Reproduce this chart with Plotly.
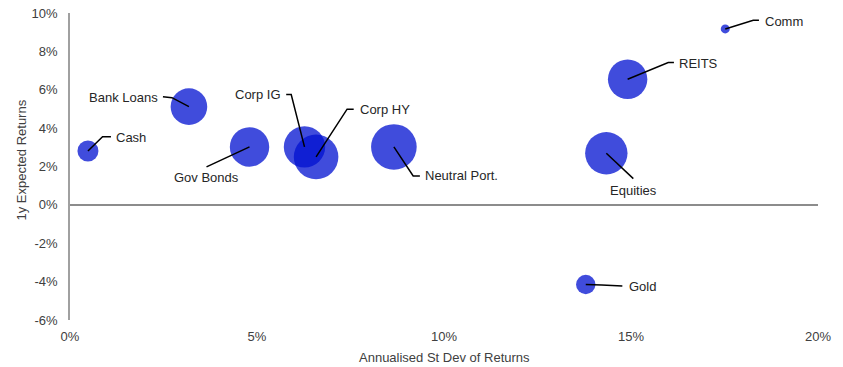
import plotly.graph_objects as go

# ---- data ----
assets = ["Cash", "Bank Loans", "Gov Bonds", "Corp IG", "Corp HY",
          "Neutral Port.", "Equities", "REITS", "Comm", "Gold"]
stdev_pct = [0.48, 3.18, 4.80, 6.27, 6.58, 8.66, 14.34, 14.91, 17.52, 13.79]
exp_ret_pct = [2.81, 5.12, 3.02, 3.02, 2.50, 3.02, 2.69, 6.55, 9.17, -4.15]
bubble_weight = [110, 335, 388, 428, 497, 520, 449, 388, 20, 94]

x_ticks = [0, 5, 10, 15, 20]
x_tick_labels = ["0%", "5%", "10%", "15%", "20%"]
y_ticks = [-6, -4, -2, 0, 2, 4, 6, 8, 10]
y_tick_labels = ["-6%", "-4%", "-2%", "0%", "2%", "4%", "6%", "8%", "10%"]
x_title = "Annualised St Dev of Returns"
y_title = "1y Expected Returns"

# ---- label layout (pixel offsets from bubble centre, screen y downward) ----
# (elbow dx, elbow dy, end dx, end dy, text dx, text dy, xanchor)
label_layout = {
    "Cash":          (14.6, -14.3, 23.0, -14.3, 26.0, -13.5, "left"),
    "Bank Loans":    (-17.0, -9.0, -26.0, -10.0, -29.0, -9.5, "right"),
    "Gov Bonds":     (-43.0, 20.0, -43.0, 20.0, -43.0, 31.0, "center"),
    "Corp IG":       (-13.3, -52.4, -18.3, -52.4, -22.0, -52.0, "right"),
    "Corp HY":       (31.0, -47.7, 37.6, -47.7, 42.0, -47.7, "left"),
    "Neutral Port.": (19.3, 29.0, 26.0, 29.0, 29.0, 29.0, "left"),
    "Equities":      (27.0, 25.4, 27.0, 25.4, 27.0, 37.0, "center"),
    "REITS":         (40.6, -16.6, 46.3, -16.6, 49.5, -16.0, "left"),
    "Comm":          (28.0, -8.7, 33.7, -8.7, 38.0, -7.5, "left"),
    "Gold":          (16.0, 0.6, 36.6, 1.6, 41.5, 2.3, "left"),
}

FONT = "Liberation Sans, Arial"

fig = go.Figure()
fig.add_trace(go.Scatter(
    x=stdev_pct, y=exp_ret_pct, mode="markers", text=assets,
    marker=dict(size=bubble_weight, sizemode="area", sizeref=0.5,
                color="rgb(0,16,208)", opacity=0.75, line=dict(width=0)),
    hoverinfo="text", showlegend=False,
))

shapes = []
annotations = []
for name, xv, yv in zip(assets, stdev_pct, exp_ret_pct):
    ex, ey, nx, ny, tx, ty, anchor = label_layout[name]
    path = f"M0,0 L{ex},{-ey} L{nx},{-ny}"
    shapes.append(dict(type="path", xref="x", yref="y", xsizemode="pixel",
                       ysizemode="pixel", xanchor=xv, yanchor=yv, path=path,
                       line=dict(color="black", width=1.5)))
    annotations.append(dict(x=xv, y=yv, xref="x", yref="y", text=name,
                            showarrow=False, xanchor=anchor, yanchor="middle",
                            xshift=tx, yshift=-ty,
                            font=dict(family=FONT, size=13, color="#262626")))

# axis titles placed as annotations for exact positioning
annotations.append(dict(x=0.5, y=0, xref="paper", yref="paper", text=x_title,
                        showarrow=False, xanchor="center", yanchor="middle",
                        yshift=-37, font=dict(family=FONT, size=13, color="#404040")))
annotations.append(dict(x=0, y=0.5, xref="paper", yref="paper", text=y_title,
                        showarrow=False, xanchor="center", yanchor="middle",
                        textangle=-90, xshift=-49, yshift=6,
                        font=dict(family=FONT, size=13, color="#404040")))

fig.update_layout(
    width=843, height=367,
    margin=dict(l=70, r=25, t=13, b=47),
    paper_bgcolor="white", plot_bgcolor="white",
    font=dict(family=FONT, size=13, color="#404040"),
    shapes=shapes, annotations=annotations,
    xaxis=dict(range=[0, 20], tickmode="array", tickvals=x_ticks,
               ticktext=x_tick_labels, automargin=False,
               showgrid=False, zeroline=False, showline=False, ticks="",
               ticklabelstandoff=7, ticklabeloverflow="allow"),
    yaxis=dict(range=[-6, 10], tickmode="array", tickvals=y_ticks,
               ticktext=y_tick_labels, automargin=False,
               showgrid=False, zeroline=True, zerolinecolor="#8c8c8c",
               zerolinewidth=1.5, showline=True, linecolor="#a0a0a0",
               linewidth=1.5, ticks="", ticklabelstandoff=8,
               ticklabeloverflow="allow"),
)

# remove the page's default 8px body margin so the figure fills the window
fig.write_html("out.html", config={"displayModeBar": False},
               post_script="document.body.style.margin='0px';")
